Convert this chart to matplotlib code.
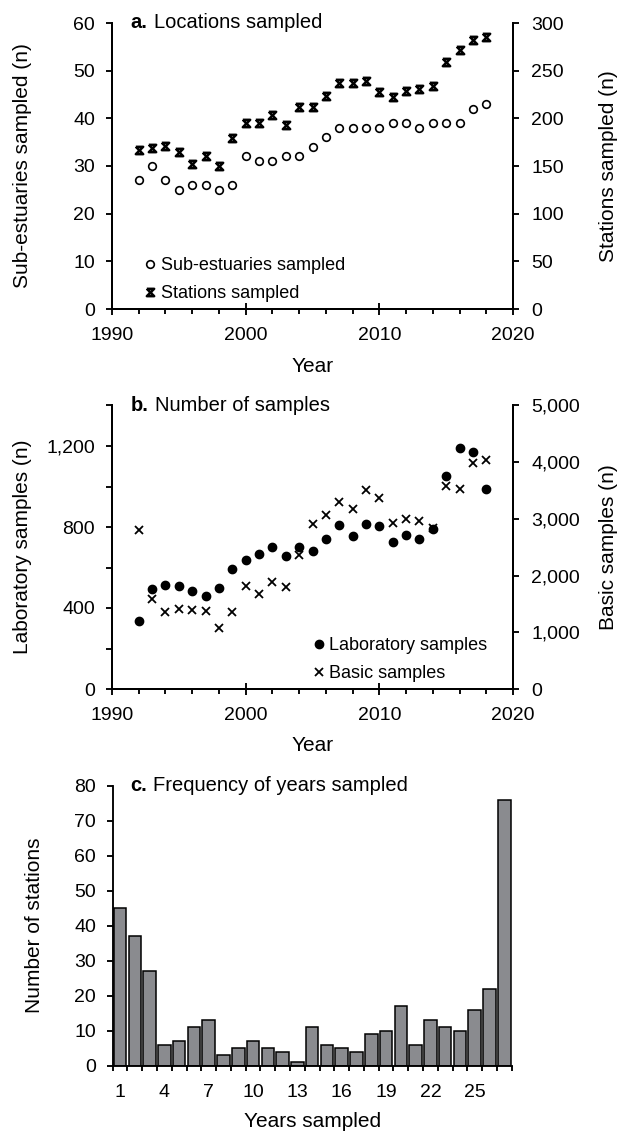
import matplotlib
matplotlib.use("Agg")
from matplotlib import pyplot as plt
from matplotlib.path import Path
from matplotlib.ticker import MultipleLocator, FixedLocator, FuncFormatter
from matplotlib.transforms import offset_copy

plt.rcParams["font.family"] = ["Liberation Sans", "DejaVu Sans"]

# ---- data ----
years = list(range(1992, 2019))
sub_estuaries = [27, 30, 27, 25, 26, 26, 25, 26, 32, 31, 31, 32, 32, 34, 36,
                 38, 38, 38, 38, 39, 39, 38, 39, 39, 39, 42, 43]
stations = [167, 169, 171, 165, 152, 160, 150, 179, 195, 195, 204, 193, 212,
            212, 223, 237, 237, 239, 228, 222, 229, 231, 234, 259, 272, 282, 285]
lab_samples = [335, 492, 513, 509, 485, 457, 500, 595, 635, 667, 699, 656, 702,
               681, 740, 812, 758, 817, 804, 725, 760, 743, 791, 1052, 1190,
               1170, 986]
basic_samples = [2805, 1582, 1364, 1405, 1394, 1376, 1070, 1358, 1817, 1670,
                 1882, 1805, 2364, 2916, 3075, 3304, 3170, 3510, 3369, 2934,
                 2993, 2964, 2835, 3586, 3523, 3981, 4040]
years_sampled = list(range(1, 28))
n_stations = [45, 37, 27, 6, 7, 11, 13, 3, 5, 7, 5, 4, 1, 11, 6, 5, 4, 9, 10,
              17, 6, 13, 11, 10, 16, 22, 76]

TICK = 14
LABEL = 15
LEGEND = 13
TITLE = 14.5
LW = 1.35

# hourglass-like "star" marker used for stations
hourglass = Path([(-1, 1), (1, 1), (-1, -1), (1, -1), (-1, 1)],
                 [Path.MOVETO, Path.LINETO, Path.LINETO, Path.LINETO, Path.LINETO])

comma = FuncFormatter(lambda v, p: f"{int(v):,}")

fig = plt.figure(figsize=(6.19, 11.34), dpi=100)
W, H = 619.0, 1134.0


def frac(left, right, top, bottom):
    return [left / W, 1 - bottom / H, (right - left) / W, (bottom - top) / H]


def panel_title(ax, letter, text, x=0.047):
    # bold letter followed by normal text, like "a. Locations sampled"
    t = ax.text(x, 1.0, letter, transform=ax.transAxes, fontsize=TITLE,
                fontweight="bold", va="center", ha="left")
    fig.canvas.draw()
    bb = t.get_window_extent(fig.canvas.get_renderer())
    x_axes = ax.transAxes.inverted().transform((bb.x1, bb.y0))[0]
    ax.text(x_axes, 1.0, text, transform=offset_copy(ax.transAxes, fig=fig, x=6, units="dots"),
            fontsize=TITLE, va="center", ha="left")


def style_year_axes(ax, ax2):
    ax.spines["top"].set_visible(False)
    ax2.spines["top"].set_visible(False)
    for a in (ax, ax2):
        for s in a.spines.values():
            s.set_linewidth(LW)
    ax.set_xlim(1990, 2020)
    ax.xaxis.set_major_locator(MultipleLocator(10))
    ax.xaxis.set_minor_locator(MultipleLocator(2))
    ax.tick_params(axis="x", which="major", direction="inout", length=8.6,
                   width=LW, labelsize=TICK, pad=9)
    ax.tick_params(axis="x", which="minor", direction="out", length=3.8, width=LW)
    ax.tick_params(axis="y", which="both", direction="out", length=4.1,
                   width=LW, labelsize=TICK, pad=8)
    ax2.tick_params(axis="y", which="both", direction="out", length=4.1,
                    width=LW, labelsize=TICK, pad=9)
    ax.set_xlabel("Year", fontsize=LABEL, va="center")
    ax.xaxis.set_label_coords(0.5, -0.2)


def place_ylabels(ax, ax2, left_x, right_x):
    ax.yaxis.label.set_va("center")
    ax.yaxis.set_label_coords(left_x, 0.5)
    if ax2 is not None:
        ax2.yaxis.label.set_va("center")
        ax2.yaxis.set_label_coords(right_x, 0.5)


# ---- a. Locations sampled ----
ax = fig.add_axes(frac(112, 513, 23, 309))
ax2 = ax.twinx()
style_year_axes(ax, ax2)
h1, = ax.plot(years, sub_estuaries, linestyle="none", marker="o", ms=5.5,
              mfc="white", mec="black", mew=1.2, label="Sub-estuaries sampled")
h2, = ax2.plot(years, stations, linestyle="none", marker=hourglass, ms=5.3,
               mfc="none", mec="black", mew=1.8, label="Stations sampled")
ax.set_ylim(0, 60)
ax.yaxis.set_major_locator(MultipleLocator(10))
ax2.set_ylim(0, 300)
ax2.yaxis.set_major_locator(MultipleLocator(50))
ax.set_ylabel("Sub-estuaries sampled (n)", fontsize=LABEL)
ax2.set_ylabel("Stations sampled (n)", fontsize=LABEL)
place_ylabels(ax, ax2, -0.222, 1.237)
ax2.legend(handles=[h1, h2], loc="lower left", bbox_to_anchor=(0.05, -0.02),
           frameon=False, fontsize=LEGEND, handlelength=0.6, handletextpad=0.3,
           labelspacing=0.6, borderpad=0.2)
panel_title(ax, "a.", "Locations sampled")

# ---- b. Number of samples ----
bx = fig.add_axes(frac(112, 513, 405.5, 689))
bx2 = bx.twinx()
style_year_axes(bx, bx2)
g1, = bx.plot(years, lab_samples, linestyle="none", marker="o", ms=6,
              mfc="black", mec="black", label="Laboratory samples")
g2, = bx2.plot(years, basic_samples, linestyle="none", marker="x", ms=5.5,
               mec="black", mew=1.3, label="Basic samples")
bx.set_ylim(0, 1400)
bx.yaxis.set_major_locator(MultipleLocator(400))
bx.yaxis.set_minor_locator(MultipleLocator(200))
bx.yaxis.set_major_formatter(comma)
bx2.set_ylim(0, 5000)
bx2.yaxis.set_major_locator(MultipleLocator(1000))
bx2.yaxis.set_major_formatter(comma)
bx.set_ylabel("Laboratory samples (n)", fontsize=LABEL)
bx2.set_ylabel("Basic samples (n)", fontsize=LABEL)
place_ylabels(bx, bx2, -0.222, 1.237)
bx2.legend(handles=[g1, g2], loc="lower left", bbox_to_anchor=(0.47, -0.02),
           frameon=False, fontsize=LEGEND, handlelength=0.6, handletextpad=0.3,
           labelspacing=0.6, borderpad=0.2)
panel_title(bx, "b.", "Number of samples")

# ---- c. Frequency of years sampled ----
cx = fig.add_axes(frac(112.7, 511.7, 785.7, 1065.7))
cx.bar(years_sampled, n_stations, width=0.85, color="#8a8b8f",
       edgecolor="black", linewidth=1.1)
cx.set_xlim(0.5, 27.5)
cx.set_ylim(0, 80)
cx.yaxis.set_major_locator(MultipleLocator(10))
cx.xaxis.set_major_locator(FixedLocator(years_sampled[::3]))
cx.xaxis.set_minor_locator(MultipleLocator(1, offset=0.5))
cx.spines["top"].set_visible(False)
cx.spines["right"].set_visible(False)
for s in cx.spines.values():
    s.set_linewidth(LW)
cx.tick_params(axis="x", which="major", length=0, labelsize=TICK, pad=13.5)
cx.tick_params(axis="x", which="minor", direction="out", length=3.8, width=LW)
cx.tick_params(axis="y", direction="out", length=4.1, width=LW,
               labelsize=TICK, pad=8)
cx.set_xlabel("Years sampled", fontsize=LABEL, va="center")
cx.xaxis.set_label_coords(0.5, -0.2)
cx.set_ylabel("Number of stations", fontsize=LABEL)
place_ylabels(cx, None, -0.195, None)
panel_title(cx, "c.", "Frequency of years sampled", x=0.043)

fig.savefig("out.png", dpi=100)
